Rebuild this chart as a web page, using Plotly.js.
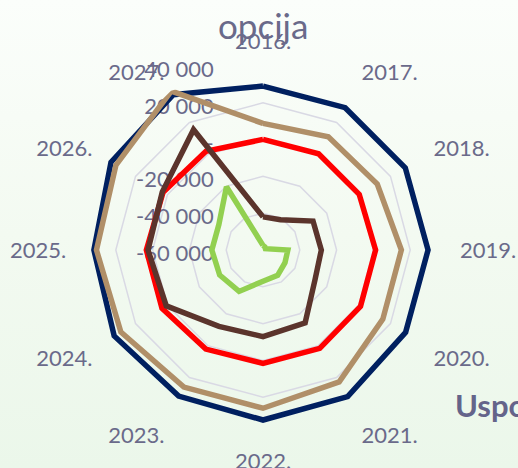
<!DOCTYPE html>
<html>
<head>
<meta charset="utf-8">
<script src="https://cdn.plot.ly/plotly-3.0.1.min.js"></script>
<style>
html,body{margin:0;padding:0;}
body{width:518px;height:468px;background:linear-gradient(to bottom,#fbfefb 0%,#f3faf1 50%,#ebf7ea 100%);overflow:hidden;}
#chart{width:518px;height:468px;}
</style>
</head>
<body>
<div id="chart"></div>
<script>
const categories = ['2016.','2017.','2018.','2019.','2020.','2021.','2022.','2023.','2024.','2025.','2026.','2027.'];
const seriesNavy  = [29100, 29300, 29300, 29700, 29500, 32000, 32400, 31700, 33400, 31900, 35400, 37500];
const seriesTan   = [8800, 11000, 11700, 15200, 15200, 22800, 26000, 26000, 29200, 30500, 32300, 39700];
const seriesRed   = [100, 400, 400, 1200, 1200, 1700, 1600, 2200, 3400, 3400, 2700, 2000];
const seriesBrown = [-42000, -41000, -28600, -28300, -27400, -14200, -12900, -12100, 700, 2500, 3200, 15500];
const seriesGreen = [-57500, -58000, -58500, -46500, -46200, -44100, -43000, -34000, -32800, -32200, -32300, -20300];
const tickValues = [-60000, -40000, -20000, 0, 20000, 40000];
const tickLabels = ['-60 000', '-40 000', '-20 000', '-', '20 000', '40 000'];

const textColor = '#6a6a8a';
function closed(a){ return a.concat([a[0]]); }
function mk(vals, color){
  return {type:'scatterpolar', mode:'lines', r: closed(vals), theta: closed(categories),
    line:{color:color, width:5.5, shape:'linear'}, hoverinfo:'skip', showlegend:false, cliponaxis:false};
}
const data = [
  mk(seriesNavy, '#002060'),
  mk(seriesTan, '#b08f68'),
  mk(seriesRed, '#ff0000'),
  mk(seriesBrown, '#5b342c'),
  mk(seriesGreen, '#92d050')
];
const layout = {
  width:518, height:468,
  margin:{l:0,r:0,t:0,b:0},
  paper_bgcolor:'rgba(0,0,0,0)',
  plot_bgcolor:'rgba(0,0,0,0)',
  font:{family:'Lato, "Open Sans", sans-serif', color:textColor, size:22},
  title:{text:'opcija', x:0.508, xanchor:'center', y:1-27/468, yanchor:'middle', yref:'container',
    font:{family:'Lato, "Open Sans", sans-serif', size:35, color:textColor}},
  polar:{
    domain:{x:[79/518, 447/518], y:[34/468, 402/468]},
    bgcolor:'rgba(0,0,0,0)',
    gridshape:'linear',
    angularaxis:{type:'category', categoryorder:'array', categoryarray:categories,
      rotation:90, direction:'clockwise', showgrid:false, showline:false,
      ticks:'outside', ticklen:8, tickcolor:'rgba(0,0,0,0)',
      tickfont:{size:22, color:textColor}},
    radialaxis:{range:[-60000, 40000], angle:90, side:'counterclockwise',
      tickvals:tickValues, ticktext:tickLabels, showline:false,
      gridcolor:'#d9d9e4', gridwidth:1.5,
      ticks:'outside', ticklen:29, tickcolor:'rgba(0,0,0,0)',
      tickfont:{size:22, color:textColor}, layer:'below traces'}
  },
  annotations:[{text:'<b>Usporedba</b>', xref:'paper', yref:'paper', x:453/518, y:1-405/468,
    xanchor:'left', yanchor:'middle', showarrow:false,
    font:{family:'Lato, "Open Sans", sans-serif', size:31, color:'#64648a'}}]
};
Plotly.newPlot('chart', data, layout, {displayModeBar:false, staticPlot:true});
</script>
</body>
</html>
